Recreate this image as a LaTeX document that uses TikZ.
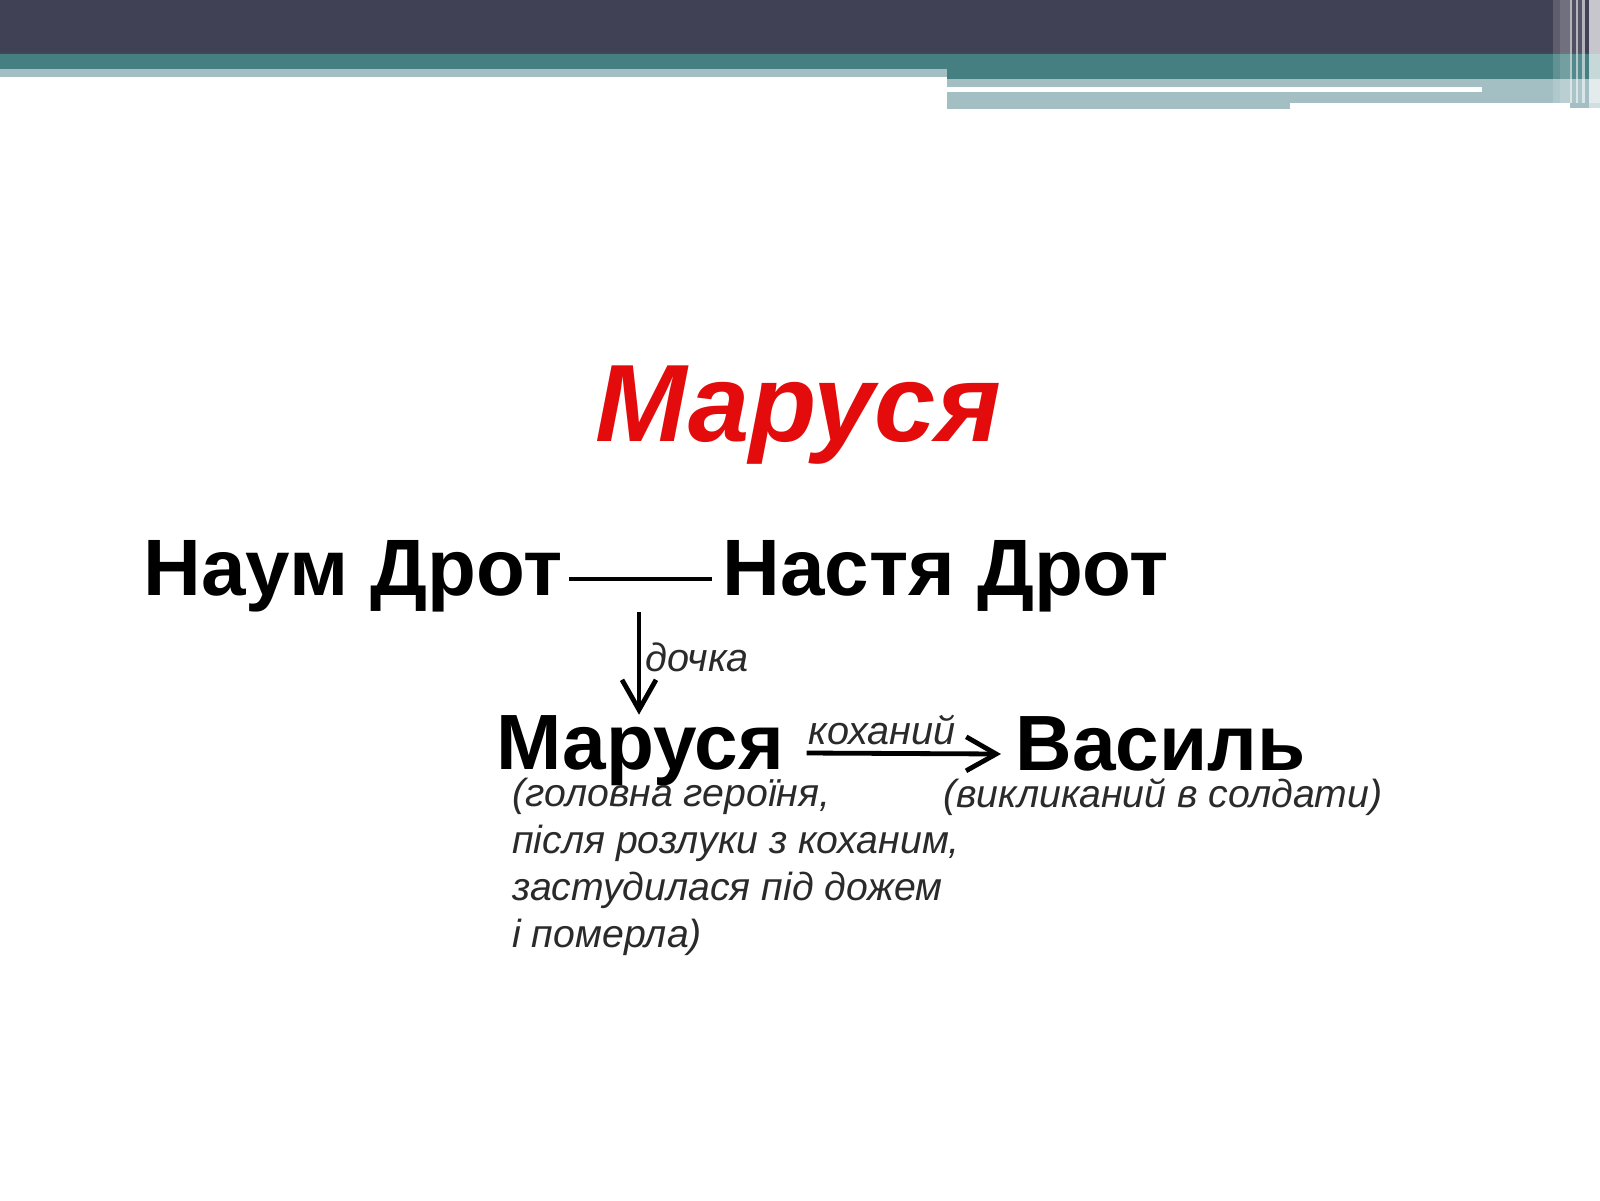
\documentclass[tikz,border=0pt]{standalone}
\usepackage{fontspec}
\setmainfont{Liberation Sans}
\usetikzlibrary{arrows.meta}
\definecolor{bardark}{HTML}{414155}
\definecolor{barline}{HTML}{3E4858}
\definecolor{barteal}{HTML}{457F82}
\definecolor{barlight}{HTML}{A3BFC4}
\definecolor{titlered}{HTML}{E30B0B}
\definecolor{notegray}{HTML}{2A2A2A}
\tikzset{
  title/.style={inner sep=0pt, anchor=base, text=titlered, font=\fontsize{55}{60}\selectfont\bfseries\itshape},
  person/.style={inner sep=0pt, anchor=base west, font=\fontsize{40}{48}\selectfont\bfseries},
  person2/.style={inner sep=0pt, anchor=base west, font=\fontsize{39.2}{48}\selectfont\bfseries},
  note/.style={inner sep=0pt, anchor=base west, text=notegray, font=\fontsize{19.6}{23}\selectfont\itshape},
  relation/.style={inner sep=0pt, anchor=base west, text=notegray, font=\fontsize{19.8}{23}\selectfont\itshape},
  conn/.style={line width=2.4pt},
  arr/.style={line width=2.4pt, -{Straight Barb[length=15pt,width=17pt,line width=2.4pt]}},
}
\begin{document}
\begin{tikzpicture}[x=0.5pt,y=-0.5pt]
\useasboundingbox (0,0) rectangle (1600,1200);
\fill[white] (0,0) rectangle (1600,1200);
% header bars
\fill[bardark] (0,0) rectangle (1600,52);
\fill[barline] (0,52) rectangle (1600,54);
\fill[barteal] (0,54) rectangle (1600,69);
\fill[barlight] (0,69) rectangle (947,77);
\fill[barteal] (947,69) rectangle (1600,79);
\fill[barlight] (947,79) rectangle (1600,109);
\fill[white] (947,87) rectangle (1482,92);
\fill[white] (1290,103) rectangle (1600,110);
% vertical stripes at the right end
\fill[white,opacity=0.15] (1553,0) rectangle (1560,103);
\fill[white,opacity=0.25] (1560,0) rectangle (1570,103);
\fill[white,opacity=0.6] (1570,0) rectangle (1572,108);
\fill[white,opacity=0.08] (1572,0) rectangle (1576,108);
\fill[white,opacity=0.6] (1576,0) rectangle (1578,108);
\fill[white,opacity=0.1] (1578,0) rectangle (1582,108);
\fill[white,opacity=0.6] (1582,0) rectangle (1585,108);
\fill[white,opacity=0.7] (1589,0) rectangle (1600,108);
\fill[barlight] (1570,103) rectangle (1600,108);
\fill[white,opacity=0.5] (1589,103) rectangle (1600,108);

% texts
\node[title] (title) at (798,441) {Маруся};
\node[person] (naum) at (143,595) {Наум Дрот};
\node[person] (nastya) at (722,595) {Настя Дрот};
\node[person2] (marusia) at (496,769) {Маруся};
\node[person2] (vasyl) at (1015,770) {Василь};
\node[relation] (dochka) at (645,671) {дочка};
\node[relation] (kokhanyi) at (808,744) {коханий};
\node[note] (vyklyk) at (943,807) {(викликаний в солдати)};
\node[note] (m1) at (512,806) {(головна героїня,};
\node[note] (m2) at (512,853) {після розлуки з коханим,};
\node[note] (m3) at (512,900) {застудилася під дожем};
\node[note] (m4) at (512,947) {і померла)};

% connectors
\coordinate (pairline) at (639,579);
\draw[conn] ([xshift=3pt,yshift=8pt]naum.base east) -- ([xshift=-5pt,yshift=8pt]nastya.base west);
\draw[arr] (pairline |- 0,612) -- (marusia.north -| pairline);
\draw[arr] ([xshift=11pt,yshift=8pt]marusia.base east) -- ([xshift=-7pt,yshift=8pt]vasyl.base west);
\end{tikzpicture}
\end{document}
